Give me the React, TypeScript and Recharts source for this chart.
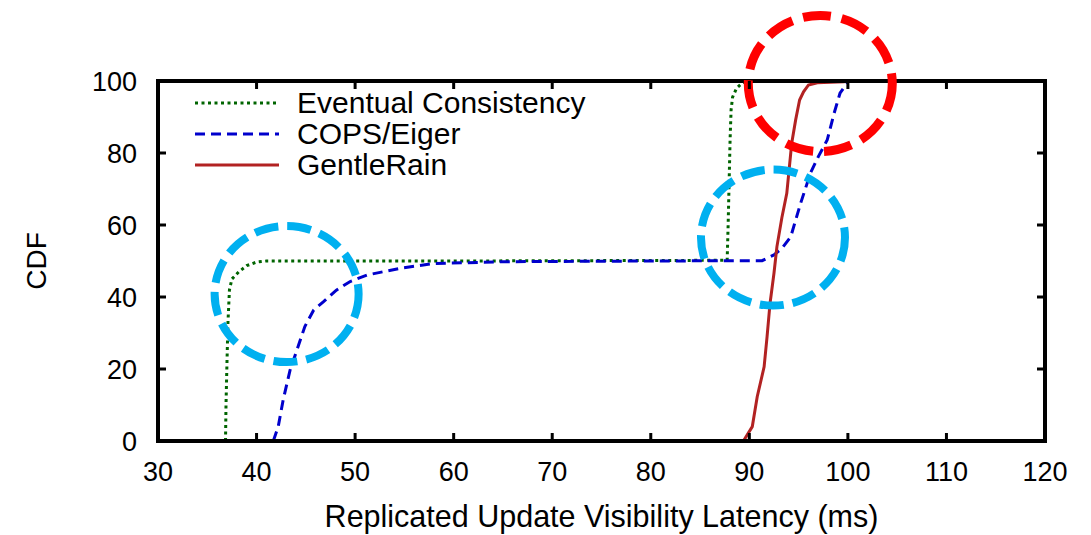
import React from 'react'
import { LineChart, Line, XAxis, YAxis, ReferenceDot } from 'recharts'

const X_TICKS = [30, 40, 50, 60, 70, 80, 90, 100, 110, 120]
const Y_TICKS = [0, 20, 40, 60, 80, 100]

// Eventual Consistency
const EC_LATENCY = [36.85, 36.9, 37.0, 37.1, 37.25, 37.5, 38.2, 39.0, 40.0, 41.0, 60.0, 87.75, 87.85, 87.95, 88.05, 88.15, 88.3, 88.7, 89.3, 90.0]
const EC_CDF = [0, 10, 22, 33, 42, 45, 47, 48.7, 49.7, 50, 50, 50.2, 60, 72, 84, 92, 95.5, 98, 99.5, 100]

// COPS/Eiger
const COPS_LATENCY = [41.7, 42.2, 42.7, 43.4, 44.1, 44.9, 45.8, 46.8, 48.1, 49.5, 51.2, 54.6, 58.0, 65.0, 80.0, 91.3, 92.5, 93.3, 94.2, 95.2, 96.2, 97.0, 97.9, 98.6, 99.2, 99.9, 100.0]
const COPS_CDF = [0, 4, 11.4, 19.7, 25.3, 31.8, 36.4, 38.7, 41.9, 44.3, 46.1, 48, 49.3, 49.8, 50, 50.1, 51.7, 53.5, 56.7, 66, 74.4, 79, 83.6, 91, 96.6, 99.4, 100]

// GentleRain
const GR_LATENCY = [89.4, 90.3, 90.8, 91.5, 91.8, 92.1, 92.5, 92.8, 93.3, 93.8, 94.3, 94.7, 95.1, 95.5, 96.0, 96.9, 99.6, 100.0]
const GR_CDF = [0, 4, 12.3, 20.6, 29, 38.2, 46.6, 54, 62, 68.8, 82.7, 89.2, 94.7, 97, 98.9, 99.5, 99.8, 100]

// the first series is hung on the top/right axes so that those get ticks too
// (all axes share the same fixed domains, so the scales are identical)
const SERIES = [
  { name: 'Eventual Consistency', color: '#006400', dash: '3 3.5', x: EC_LATENCY, y: EC_CDF, xId: 'top', yId: 'right' },
  { name: 'COPS/Eiger', color: '#0000cc', dash: '10 6', x: COPS_LATENCY, y: COPS_CDF, xId: 0, yId: 0 },
  { name: 'GentleRain', color: '#b22222', dash: undefined, x: GR_LATENCY, y: GR_CDF, xId: 0, yId: 0 },
]

// highlight circles (centre in data units)
const CIRCLE_X = [43.05, 92.4, 97.2]
const CIRCLE_Y = [40.8, 56.5, 99.3]
const CIRCLE_COLOR = ['#00b0f0', '#00b0f0', '#ff0000']

const FONT = '"Liberation Sans", Arial, Helvetica, sans-serif'
const TICK_LEN = 8

const toPoints = (xs: number[], ys: number[]) => xs.map((x, i) => ({ latency: x, cdf: ys[i] }))

const Ellipse = (color: string) => (props: any) => (
  <ellipse
    cx={props.cx}
    cy={props.cy}
    rx={72}
    ry={68}
    fill="none"
    stroke={color}
    strokeWidth={color === '#ff0000' ? 9 : 8}
    strokeDasharray={color === '#ff0000' ? '28 11' : '24 9'}
  />
)

// gnuplot style ticks: pointing into the plot, labels outside
const BottomTick = (p: any) => (
  <g>
    <line x1={p.x} x2={p.x} y1={p.y - TICK_LEN} y2={p.y - 2 * TICK_LEN} stroke="#000" strokeWidth={3} />
    <text x={p.x} y={p.y + 13} dy="0.71em" textAnchor="middle" fontSize={27} fontFamily={FONT} fill="#000">
      {p.payload.value}
    </text>
  </g>
)
const LeftTick = (p: any) => (
  <g>
    <line x1={p.x + TICK_LEN} x2={p.x + 2 * TICK_LEN} y1={p.y} y2={p.y} stroke="#000" strokeWidth={3} />
    <text x={p.x - 13} y={p.y} dy="0.355em" textAnchor="end" fontSize={27} fontFamily={FONT} fill="#000">
      {p.payload.value}
    </text>
  </g>
)
const TopTick = (p: any) => (
  <line x1={p.x} x2={p.x} y1={p.y - TICK_LEN} y2={p.y} stroke="#000" strokeWidth={3} />
)
const RightTick = (p: any) => (
  <line x1={p.x} x2={p.x + TICK_LEN} y1={p.y} y2={p.y} stroke="#000" strokeWidth={3} />
)

export default function App() {
  const axisLine = { stroke: '#000', strokeWidth: 4, strokeLinecap: 'square' as const }

  return (
    <div style={{ position: 'absolute', left: 0, top: 0, width: 1091, height: 535, background: '#fff', fontFamily: FONT }}>
      <LineChart width={1091} height={535} margin={{ top: 81, right: 46, bottom: 0, left: 0 }}>
        <XAxis
          xAxisId={0}
          dataKey="latency"
          type="number"
          domain={[30, 120]}
          ticks={X_TICKS}
          interval={0}
          height={94}
          axisLine={axisLine}
          tickLine={false}
          tickSize={TICK_LEN}
          tickMargin={0}
          tick={BottomTick}
          label={(p: any) => {
            const vb = p.viewBox
            return (
              <text x={vb.x + vb.width / 2} y={vb.y + 86} textAnchor="middle" fontSize={30.5} fontFamily={FONT} fill="#000">
                Replicated Update Visibility Latency (ms)
              </text>
            )
          }}
        />
        <XAxis
          xAxisId="top"
          orientation="top"
          dataKey="latency"
          type="number"
          domain={[30, 120]}
          ticks={X_TICKS}
          interval={0}
          mirror
          axisLine={axisLine}
          tickLine={false}
          tickSize={TICK_LEN}
          tickMargin={0}
          tick={TopTick}
        />
        <YAxis
          yAxisId={0}
          type="number"
          domain={[0, 100]}
          ticks={Y_TICKS}
          interval={0}
          width={158}
          axisLine={axisLine}
          tickLine={false}
          tickSize={TICK_LEN}
          tickMargin={0}
          tick={LeftTick}
          label={(p: any) => {
            const vb = p.viewBox
            const cx = 46
            const cy = vb.y + vb.height / 2
            return (
              <text x={cx} y={cy} transform={`rotate(-90 ${cx} ${cy})`} textAnchor="middle" fontSize={28} fontFamily={FONT} fill="#000">
                CDF
              </text>
            )
          }}
        />
        <YAxis
          yAxisId="right"
          orientation="right"
          type="number"
          domain={[0, 100]}
          ticks={Y_TICKS}
          interval={0}
          mirror
          axisLine={axisLine}
          tickLine={false}
          tickSize={TICK_LEN}
          tickMargin={0}
          tick={RightTick}
        />
        {SERIES.map((s) => (
          <Line
            key={s.name}
            xAxisId={s.xId}
            yAxisId={s.yId}
            data={toPoints(s.x, s.y)}
            dataKey="cdf"
            name={s.name}
            type="linear"
            stroke={s.color}
            strokeWidth={3}
            strokeDasharray={s.dash}
            dot={false}
            activeDot={false}
            isAnimationActive={false}
          />
        ))}
        {CIRCLE_X.map((cx, i) => (
          <ReferenceDot
            key={i}
            x={cx}
            y={CIRCLE_Y[i]}
            r={70}
            ifOverflow="visible"
            shape={Ellipse(CIRCLE_COLOR[i])}
          />
        ))}
      </LineChart>

      {/* legend */}
      <div style={{ position: 'absolute', left: 195, top: 87 }}>
        {SERIES.map((s) => (
          <div key={s.name} style={{ display: 'flex', alignItems: 'center', height: 31 }}>
            <svg width={84} height={6} style={{ display: 'block' }}>
              <line x1={0} y1={3} x2={84} y2={3} stroke={s.color} strokeWidth={3} strokeDasharray={s.dash} />
            </svg>
            <span style={{ marginLeft: 18, fontSize: 30, lineHeight: '31px', color: '#000' }}>{s.name}</span>
          </div>
        ))}
      </div>
    </div>
  )
}
